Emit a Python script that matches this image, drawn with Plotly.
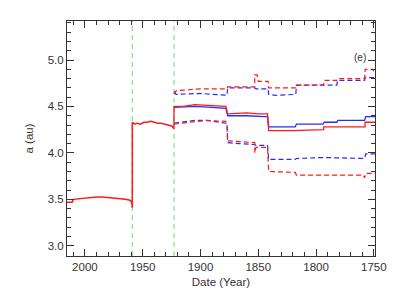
import plotly.graph_objects as go

# ---- data ----
early_years = [2015.5, 2011, 2010, 2000, 1990, 1985, 1975, 1965, 1961, 1959.5, 1959,
               1959, 1957, 1955, 1952, 1949, 1946, 1943, 1940, 1937, 1934, 1931, 1928, 1925, 1923.5, 1923]
early_vals = [3.47, 3.47, 3.50, 3.515, 3.525, 3.525, 3.515, 3.50, 3.49, 3.47, 3.41,
              4.33, 4.31, 4.32, 4.31, 4.33, 4.33, 4.34, 4.33, 4.32, 4.32, 4.31, 4.30, 4.29, 4.27, 4.26]

red_solid_years = [1923, 1922.9, 1915, 1905, 1890, 1878, 1876.5, 1860, 1850, 1842, 1841, 1820,
                   1793.4, 1793.4, 1757.6, 1757.6, 1749]
red_solid_vals = [4.26, 4.50, 4.50, 4.52, 4.51, 4.50, 4.42, 4.43, 4.42, 4.42, 4.24, 4.24,
                  4.25, 4.28, 4.28, 4.33, 4.33]

blue_solid_years = [1922.9, 1905, 1890, 1878, 1876.5, 1860, 1845, 1842, 1841, 1818, 1817,
                    1794, 1793, 1782, 1781, 1758, 1757, 1749]
blue_solid_vals = [4.49, 4.50, 4.49, 4.48, 4.40, 4.40, 4.39, 4.39, 4.28, 4.28, 4.31,
                   4.31, 4.33, 4.33, 4.35, 4.35, 4.39, 4.39]

red_up_years = [1922.9, 1921, 1910, 1900, 1877, 1876.5, 1853, 1853, 1851, 1850, 1841.5, 1841,
                1817.5, 1817, 1793.5, 1793, 1782, 1781.5, 1758, 1757.5, 1751, 1750]
red_up_vals = [4.63, 4.67, 4.68, 4.69, 4.69, 4.71, 4.71, 4.84, 4.84, 4.77, 4.77, 4.70,
               4.70, 4.73, 4.73, 4.78, 4.78, 4.80, 4.80, 4.90, 4.90, 4.88]

blue_up_years = [1922.9, 1921, 1900, 1877, 1876.5, 1853, 1852, 1841.5, 1841, 1835, 1817.5, 1817,
                 1782, 1781.5, 1758, 1757.5, 1749]
blue_up_vals = [4.66, 4.63, 4.64, 4.62, 4.70, 4.70, 4.69, 4.69, 4.63, 4.62, 4.63, 4.73,
                4.73, 4.78, 4.78, 4.81, 4.81]

red_low_years = [1922.9, 1915, 1905, 1895, 1878, 1877, 1876.5, 1866, 1855, 1853, 1853, 1852,
                 1842, 1841, 1818, 1817, 1759, 1758, 1757, 1749]
red_low_vals = [4.31, 4.32, 4.34, 4.35, 4.34, 4.30, 4.13, 4.12, 4.11, 4.11, 4.00, 4.06,
                4.06, 3.80, 3.79, 3.76, 3.76, 3.73, 3.78, 3.78]

blue_low_years = [1922.9, 1915, 1905, 1895, 1878, 1877, 1876.5, 1866, 1853, 1852, 1842, 1841,
                  1818, 1817, 1794, 1758, 1757, 1749]
blue_low_vals = [4.32, 4.33, 4.35, 4.35, 4.32, 4.28, 4.11, 4.10, 4.09, 4.08, 4.08, 3.93,
                 3.93, 3.94, 3.95, 3.94, 3.99, 3.99]

event_years = [1959, 1922.9]
x_ticks = [2000, 1950, 1900, 1850, 1800, 1750]
y_ticks = [3.0, 3.5, 4.0, 4.5, 5.0]
panel_label = "(e)"

RED = "#ff1a1a"
BLUE = "#2a2aff"
GREEN = "#80e680"
AX = "#333333"

fig = go.Figure()

def add(xs, ys, color, dash=None, width=1.3):
    fig.add_trace(go.Scatter(x=xs, y=ys, mode="lines",
                             line=dict(color=color, width=width, dash=dash),
                             showlegend=False, hoverinfo="skip"))

for yr in event_years:
    fig.add_vline(x=yr, line=dict(color=GREEN, width=1.2, dash="5px,4px"), layer="below")

add(blue_up_years, blue_up_vals, BLUE, "5px,3px", 1.2)
add(red_up_years, red_up_vals, RED, "5px,3px", 1.2)
add(blue_low_years, blue_low_vals, BLUE, "5px,3px", 1.2)
add(red_low_years, red_low_vals, RED, "5px,3px", 1.2)
add(blue_solid_years, blue_solid_vals, BLUE)
add(red_solid_years, red_solid_vals, RED)
add(early_years, early_vals, RED, width=1.5)

fig.add_annotation(x=1762, y=5.03, text=panel_label, showarrow=False,
                   font=dict(size=10, color=AX, family="Liberation Sans"))

axis_common = dict(showline=True, linecolor=AX, linewidth=1, mirror="allticks",
                   ticks="inside", ticklen=7, tickcolor=AX, tickwidth=1,
                   showgrid=False, zeroline=False,
                   tickfont=dict(size=11.5, color=AX, family="Liberation Sans"))

fig.update_xaxes(range=[2015.5, 1749], tickvals=x_ticks,
                 ticktext=[str(v) for v in x_ticks],
                 title=dict(text="Date (Year)", standoff=6,
                            font=dict(size=11.5, color=AX, family="Liberation Sans")),
                 minor=dict(dtick=10, tick0=1750, ticks="inside", ticklen=4, tickcolor=AX),
                 **axis_common)
fig.update_yaxes(range=[2.89, 5.42], tickvals=y_ticks,
                 ticktext=[f"{v:.1f}" for v in y_ticks],
                 title=dict(text="a (au)", standoff=11,
                            font=dict(size=11.5, color=AX, family="Liberation Sans")),
                 minor=dict(dtick=0.1, tick0=3.0, ticks="inside", ticklen=4, tickcolor=AX),
                 **axis_common)

fig.update_layout(width=399, height=299,
                  margin=dict(l=67, r=19, t=21, b=42),
                  paper_bgcolor="white", plot_bgcolor="white")

fig.write_html("out.html", config={"displayModeBar": False},
               post_script="document.body.style.margin='0';document.body.style.overflow='hidden';")
